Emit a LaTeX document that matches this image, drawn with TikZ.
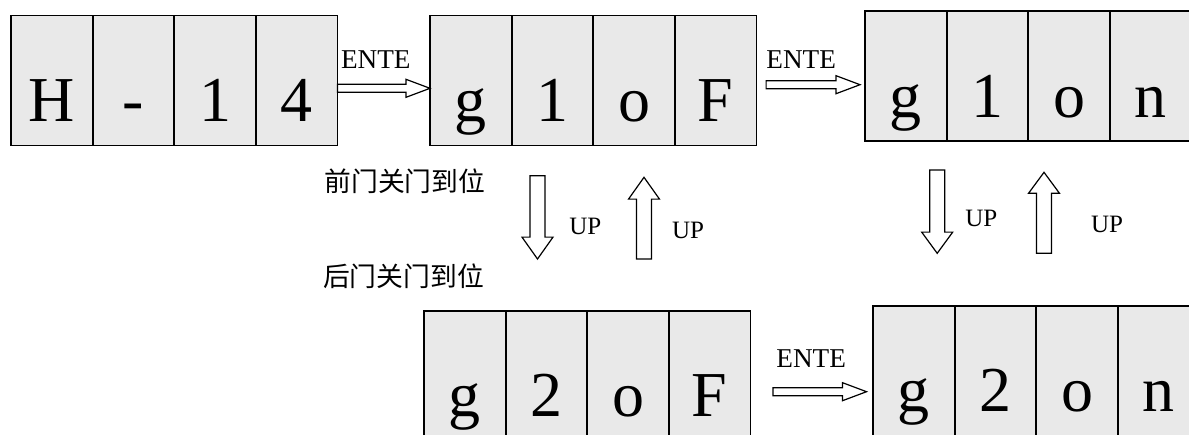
\documentclass[tikz,border=0pt]{standalone}
\usepackage{fontspec}
\setmainfont{Liberation Serif}
\newfontfamily\cjkfont{Noto Sans CJK SC}
\usepackage{tikz}
\usetikzlibrary{positioning, calc}
\definecolor{CellGray}{RGB}{233,233,233}

\begin{document}
\begin{tikzpicture}[x=0.5pt, y=-0.5pt,
    cell/.style={rectangle, draw, line width=0.9pt, fill=CellGray,
                 minimum width=40.8pt, minimum height=65pt, inner sep=0pt,
                 outer sep=0pt, font=\fontsize{32}{36}\selectfont,
                 text height=43pt, text depth=2pt},
    key/.style={inner sep=0pt, anchor=base west, font=\fontsize{13.6}{15}\selectfont},
    uplbl/.style={inner sep=0pt, anchor=base west, font=\fontsize{12.5}{15}\selectfont},
    cjk/.style={inner sep=0pt, anchor=west, font=\cjkfont\fontsize{13.4}{16}\selectfont},
    hblk/.style={line width=0.6pt, to path={let \p1=(\tikztostart), \p2=(\tikztotarget) in
        (\x1,\y1-2pt) -- (\x2-12pt,\y1-2pt) -- (\x2-12pt,\y1-4.5pt) -- (\x2,\y1)
        -- (\x2-12pt,\y1+4.5pt) -- (\x2-12pt,\y1+2pt) -- (\x1,\y1+2pt) -- cycle}},
    vblk/.style={line width=0.6pt, to path={let \p1=(\tikztostart), \p2=(\tikztotarget),
        \p3=($(\p2)!11pt!(\p1)$) in
        (\x1-3.75pt,\y1) -- (\x1-3.75pt,\y3) -- (\x1-7.75pt,\y3) -- (\x1,\y2)
        -- (\x1+7.75pt,\y3) -- (\x1+3.75pt,\y3) -- (\x1+3.75pt,\y1) -- cycle}}
  ]
  \useasboundingbox (0,0) rectangle (1189,434);
  \clip (0,0) rectangle (1189,434);

  % top row
  \node[cell] (h1) at (51.8,80.5) {H};
  \node[cell, right=0pt of h1] (h2) {-};
  \node[cell, right=0pt of h2] (h3) {1};
  \node[cell, right=0pt of h3] (h4) {4};

  \node[cell] (a1) at (470.8,80.5) {g};
  \node[cell, right=0pt of a1] (a2) {1};
  \node[cell, right=0pt of a2] (a3) {o};
  \node[cell, right=0pt of a3] (a4) {F};

  \node[cell] (b1) at (905.8,76) {g};
  \node[cell, right=0pt of b1] (b2) {1};
  \node[cell, right=0pt of b2] (b3) {o};
  \node[cell, right=0pt of b3] (b4) {n};

  % bottom row
  \node[cell] (c1) at (464.8,375.7) {g};
  \node[cell, right=0pt of c1] (c2) {2};
  \node[cell, right=0pt of c2] (c3) {o};
  \node[cell, right=0pt of c3] (c4) {F};

  \node[cell] (d1) at (913.8,370.7) {g};
  \node[cell, right=0pt of d1] (d2) {2};
  \node[cell, right=0pt of d2] (d3) {o};
  \node[cell, right=0pt of d3] (d4) {n};

  % ENTE steps
  \draw[hblk] ([shift={(0,7.8)}]h4.east) to (a1.west);
  \draw[hblk] ([shift={(9.7,4.2)}]a4.east) to ([shift={(-5,0)}]b1.west);
  \draw[hblk] ([shift={(22.5,16)}]c4.east) to ([shift={(-6.5,0)}]d1.west);
  \node[key] (k1) at (340.7,68.3) {ENTE};
  \node[key] (k2) at (766,68.3) {ENTE};
  \node[key] (k3) at (776,367.7) {ENTE};

  % UP steps
  \draw[vblk] ([shift={(-14.9,30.2)}]a2.south) to ([shift={(0,-51.7)}]c2.north);
  \draw[vblk] ([shift={(16,-51.7)}]c3.north) to ([shift={(0,31.8)}]a3.south);
  \draw[vblk] ([shift={(31.4,29)}]b1.south) to ([shift={(0,-52.4)}]d1.north);
  \draw[vblk] ([shift={(-33,-52.4)}]d3.north) to ([shift={(0,31.3)}]b3.south);
  \node[uplbl] (u1) at (569,234) {UP};
  \node[uplbl] (u2) at (671.7,238.3) {UP};
  \node[uplbl] (u3) at (965,226.7) {UP};
  \node[uplbl] (u4) at (1090.7,232.7) {UP};

  \node[cjk] (q1) at (324,181) {前门关门到位};
  \node[cjk] (q2) at (322.7,276) {后门关门到位};
\end{tikzpicture}
\end{document}
